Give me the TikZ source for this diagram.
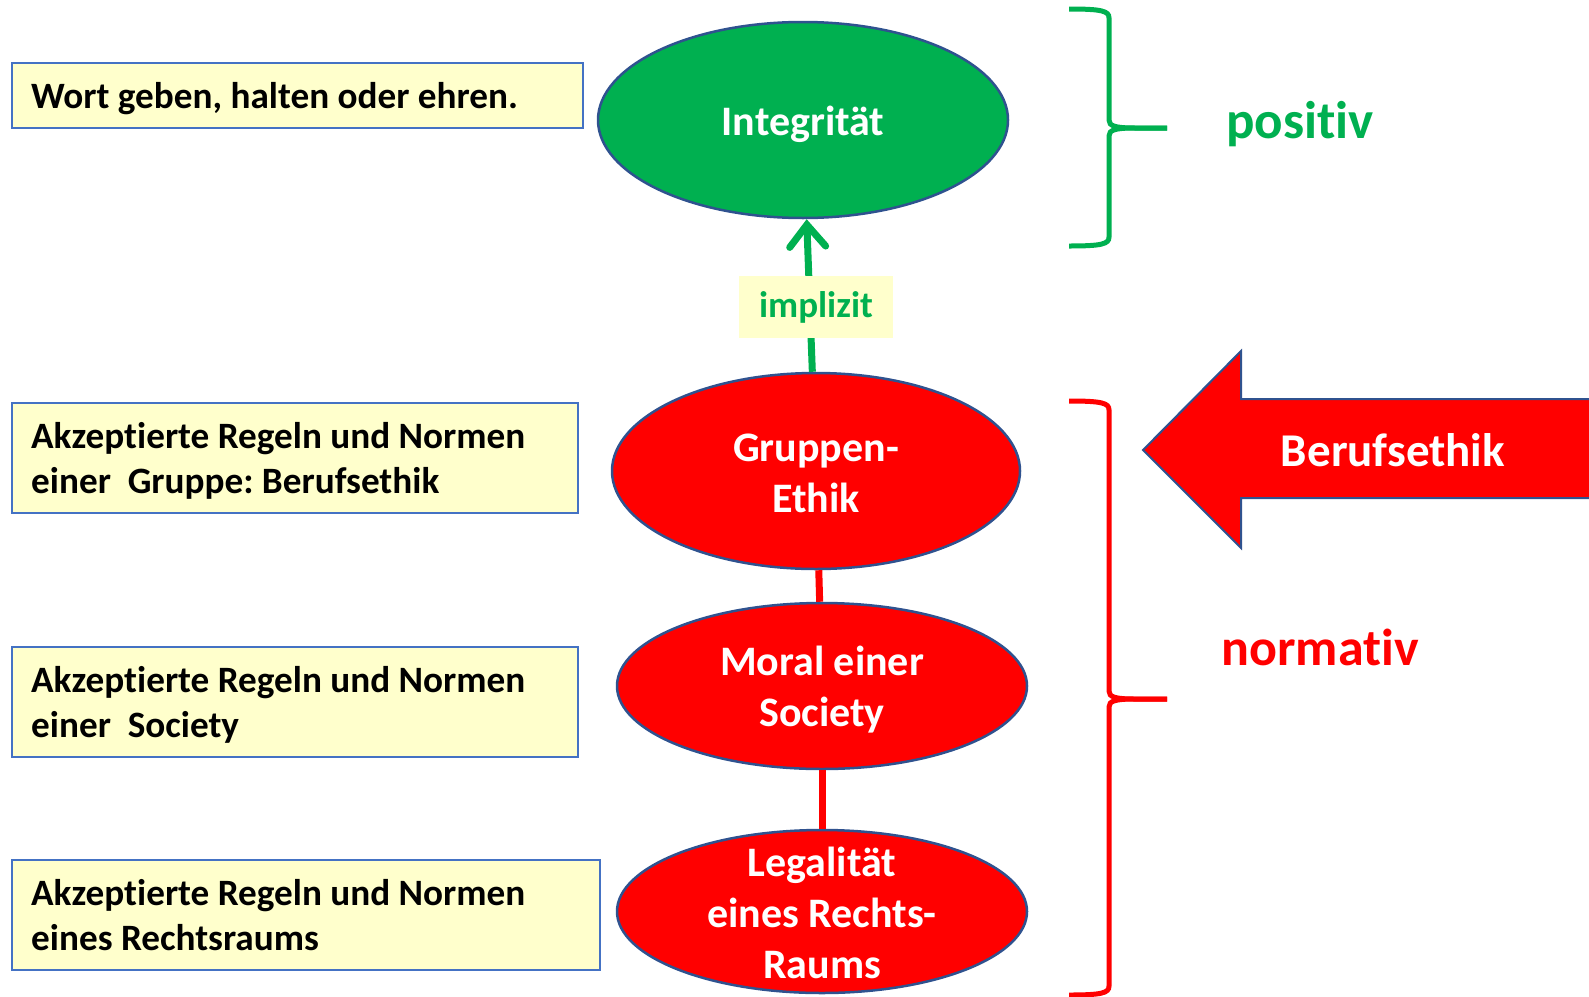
\documentclass[tikz,border=0pt]{standalone}
\usepackage{fontspec}
\setmainfont{Carlito}[Ligatures=NoCommon]
\usetikzlibrary{shapes.geometric,arrows.meta}
\definecolor{boxfill}{HTML}{FFFFCC}
\definecolor{boxline}{HTML}{4472C4}
\definecolor{ellline}{HTML}{2F528F}
\definecolor{mygreen}{HTML}{00B050}
\definecolor{myred}{HTML}{FF0000}
\frenchspacing
\tikzset{
  infobox/.style={draw=boxline, line width=1.5pt, fill=boxfill, anchor=west, inner sep=0pt},
  boxtext/.style={anchor=west, inner sep=0pt, align=left, font=\fontsize{37.2}{45}\selectfont\bfseries},
  ovalnode/.style={ellipse, draw=ellline, line width=2.5pt, inner sep=0pt},
  ovaltext/.style={text=white, align=center, inner sep=0pt, font=\fontsize{42}{51}\selectfont\bfseries},
  redlink/.style={draw=myred, line width=7pt},
  greenbrace/.style={draw=mygreen, line width=5pt},
  redbrace/.style={draw=myred, line width=5pt},
}
\begin{document}
\begin{tikzpicture}[x=1pt,y=-1pt]
\useasboundingbox (0,0) rectangle (1589,996);
% left boxes
\node[infobox, minimum width=571pt, minimum height=65pt] (b1) at (11,95.5) {};
\node[boxtext] (b1t) at ([xshift=20pt,yshift=-3pt]b1.west) {Wort geben, halten oder ehren.};
\node[infobox, minimum width=566pt, minimum height=110pt] (b2) at (11,458) {};
\node[boxtext] (b2t) at ([xshift=20pt,yshift=-3pt]b2.west) {Akzeptierte Regeln und Normen\\einer\ \ Gruppe: Berufsethik};
\node[infobox, minimum width=566pt, minimum height=110pt] (b3) at (11,702) {};
\node[boxtext] (b3t) at ([xshift=20pt,yshift=-2.5pt]b3.west) {Akzeptierte Regeln und Normen\\einer\ \ Society};
\node[infobox, minimum width=588pt, minimum height=110pt] (b4) at (11,915) {};
\node[boxtext] (b4t) at ([xshift=20pt]b4.west) {Akzeptierte Regeln und Normen\\eines Rechtsraums};
% ellipses
\node[ovalnode, fill=mygreen, minimum width=410pt, minimum height=196pt] (integ) at (803,120) {};
\node[ovaltext] (integt) at (803,124) {Integrität};
\node[ovalnode, fill=myred, minimum width=408pt, minimum height=196pt] (grup) at (816,471) {};
\node[ovaltext] (grupt) at (816,473) {Gruppen-\\Ethik};
\node[ovalnode, fill=myred, minimum width=410pt, minimum height=166pt] (moral) at (822,686) {};
\node[ovaltext] (moralt) at (822,690) {Moral einer\\Society};
\node[ovalnode, fill=myred, minimum width=410pt, minimum height=163pt] (legal) at (822,911.5) {};
\node[ovaltext] (legalt) at (822,913) {Legalität\\eines Rechts-\\Raums};
% connectors
\draw[mygreen, line width=7pt, -{Straight Barb[length=22pt,width=36pt,line cap=round]}] (grup) -- (integ);
\node[fill=boxfill, text=mygreen, inner xsep=20pt, inner ysep=0pt, minimum height=62pt,
  font=\fontsize{37}{40}\selectfont\bfseries] (impl) at (816,307) {implizit};
\draw[redlink] (grup) -- (moral);
\draw[redlink] (moral) -- (legal);
% braces
\draw[greenbrace] (1069,9) .. controls (1102,9) and (1109,11) .. (1109,18) -- (1109,120)
  .. controls (1109,126) and (1115,128) .. (1135,128) -- (1167,128);
\draw[greenbrace] (1167,128) -- (1135,128) .. controls (1115,128) and (1109,130) .. (1109,136)
  -- (1109,237) .. controls (1109,244) and (1102,246) .. (1069,246);
\draw[redbrace] (1069,401) .. controls (1102,401) and (1109,403) .. (1109,410) -- (1109,691)
  .. controls (1109,697) and (1115,699) .. (1135,699) -- (1167,699);
\draw[redbrace] (1167,699) -- (1135,699) .. controls (1115,699) and (1109,701) .. (1109,707)
  -- (1109,986) .. controls (1109,993) and (1102,995) .. (1069,995);
\node[text=mygreen, font=\fontsize{53}{60}\selectfont\bfseries] (pos) at (1300,124) {positiv};
\node[text=myred, font=\fontsize{52}{60}\selectfont\bfseries] (norm) at (1320,647) {normativ};
% big arrow
\draw[fill=myred, draw=ellline, line width=2pt, line join=miter] (1143,450) -- (1241,351) -- (1241,399) -- (1600,399)
  -- (1600,498) -- (1241,498) -- (1241,548) -- cycle;
\node[text=white, font=\fontsize{47}{55}\selectfont\bfseries] (beruf) at (1393,450) {Berufsethik};
\end{tikzpicture}
\end{document}
